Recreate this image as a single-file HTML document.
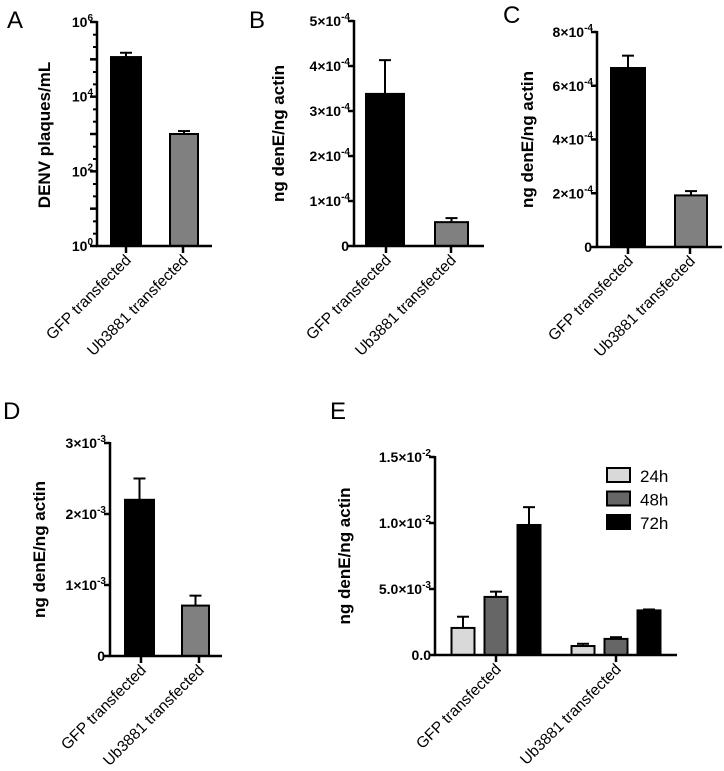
<!DOCTYPE html>
<html><head><meta charset="utf-8"><style>
html,body{margin:0;padding:0;background:#fff;}
svg{display:block;font-family:"Liberation Sans",Arial,sans-serif;}
</style></head><body>
<svg id="fig" width="724" height="771" viewBox="0 0 724 771" xmlns="http://www.w3.org/2000/svg"></svg>
<script>
// ---- data ----
const categories = ["GFP transfected","Ub3881 transfected"];
const aValues = [115000, 1000];
const aErrors = [150000, 1200];
const aTickExp = [0,2,4,6];
const bValues = [3.38e-4, 0.53e-4];
const bErrors = [4.13e-4, 0.62e-4];
const bTicks = [0,1,2,3,4,5];
const cValues = [6.66e-4, 1.92e-4];
const cErrors = [7.12e-4, 2.08e-4];
const cTicks = [0,2,4,6,8];
const dValues = [2.2e-3, 0.71e-3];
const dErrors = [2.5e-3, 0.85e-3];
const dTicks = [0,1,2,3];
const eSeries = ["24h","48h","72h"];
const e24 = [2.05e-3, 0.68e-3];
const e48 = [4.4e-3, 1.22e-3];
const e72 = [9.85e-3, 3.38e-3];
const e24err = [2.9e-3, 0.85e-3];
const e48err = [4.8e-3, 1.35e-3];
const e72err = [1.12e-2, 3.45e-3];
const eTicks = [0, 5.0e-3, 1.0e-2, 1.5e-2];
const eTickLabels = ["0.0","5.0×10","1.0×10","1.5×10"];
const eTickExps = ["","-3","-2","-2"];

const NS="http://www.w3.org/2000/svg";
const svg=document.getElementById('fig');
function el(tag,attrs,parent){const e=document.createElementNS(NS,tag);for(const k in attrs)e.setAttribute(k,attrs[k]);(parent||svg).appendChild(e);return e;}

function panel(name){const g=el('g',{});return g;}
function letter(g,txt,x,y){const t=el('text',{x:x,y:y,'font-size':'24'},g);t.textContent=txt;}
function tickLabel(g,x,y,base,exp){
  const t=el('text',{x:x,y:y,'font-size':'14','font-weight':'bold','text-anchor':'end'},g);
  
  const s1=el('tspan',{},t);s1.textContent=base;
  if(exp){const s2=el('tspan',{dy:-6,'font-size':'10'},t);s2.textContent=exp;}
}
function axes(g,ax,top,zero,right){
  const y=el('line',{x1:ax,y1:top-1,x2:ax,y2:zero+1,stroke:'#000','stroke-width':2.5},g);
  
  const x=el('line',{x1:ax-1,y1:zero,x2:right,y2:zero,stroke:'#000','stroke-width':2.5},g);
  
}
function yTitle(g,txt,x,y){const t=el('text',{x:0,y:0,'font-size':'17','font-weight':'bold','text-anchor':'middle',transform:`translate(${x},${y}) rotate(-90)`},g);t.textContent=txt;}
function catLabel(g,txt,tx,zero){
  const tk=el('line',{x1:tx,y1:zero,x2:tx,y2:zero+7,stroke:'#000','stroke-width':2.5},g);
  
  const t=el('text',{x:0,y:0,'font-size':'15.5','text-anchor':'end',transform:`translate(${tx+6},${zero+15}) rotate(-45)`},g);
  t.textContent=txt;
}
function bar(g,x0,x1,ytop,yerr,zero,fill,name){
  const e=el('line',{x1:(x0+x1)/2,y1:ytop,x2:(x0+x1)/2,y2:yerr,stroke:'#000','stroke-width':2},g);
  
  const c=el('line',{x1:(x0+x1)/2-6,y1:yerr,x2:(x0+x1)/2+6,y2:yerr,stroke:'#000','stroke-width':2},g);
  
  const r=el('rect',{x:x0,y:ytop,width:x1-x0,height:Math.max(0,zero-ytop),fill:fill,stroke:'#000','stroke-width':2},g);
  
}
function linScale(top,zero,max){return v=>zero-(v/max)*(zero-top);}
const fills=['#000','#808080'];

// ---- Panel A (log) ----
(function(){
  const g=panel('panel-a');letter(g,'A',7,28);
  const ax=97,top=22,zero=246,right=212;
  const ys=v=>zero-(Math.log10(v)/6)*(zero-top);
  for(let e=0;e<=6;e++){const yy=ys(Math.pow(10,e));const tk=el('line',{x1:ax-7,y1:yy,x2:ax,y2:yy,stroke:'#000','stroke-width':2.5},g);}
  for(let e=0;e<6;e++){for(const m of [0.33,0.66]){const mid=ys(Math.pow(10,e+m));const tk=el('line',{x1:ax-4,y1:mid,x2:ax,y2:mid,stroke:'#000','stroke-width':2},g);}}
  aTickExp.forEach(e=>tickLabel(g,ax-4,ys(Math.pow(10,e))+5,'10',String(e)));
  const xs=[[111,141],[170,198]],tx=[126,183];
  aValues.forEach((v,i)=>bar(g,xs[i][0],xs[i][1],ys(v),ys(aErrors[i]),zero,fills[i],'bar-'+i));
  axes(g,ax,top,zero,right);
  categories.forEach((c,i)=>catLabel(g,c,tx[i],zero));
  yTitle(g,'DENV plaques/mL',50,135);
})();

function simplePanel(name,L,lx,ly,ax,top,zero,right,max,ticks,scaleDiv,exp,vals,errs,xs,tx,titleX){
  const g=panel(name);letter(g,L,lx,ly);
  const ys=linScale(top,zero,max);
  ticks.forEach(t=>{const yy=ys(t*scaleDiv);const tk=el('line',{x1:ax-6,y1:yy,x2:ax,y2:yy,stroke:'#000','stroke-width':2.5},g);
    if(t===0)tickLabel(g,ax-5,yy+5,'0','');else tickLabel(g,ax-4,yy+5,t+'×10',exp);});
  vals.forEach((v,i)=>bar(g,xs[i][0],xs[i][1],ys(v),ys(errs[i]),zero,fills[i],'bar-'+i));
  axes(g,ax,top,zero,right);
  categories.forEach((c,i)=>catLabel(g,c,tx[i],zero));
  yTitle(g,'ng denE/ng actin',titleX,(top+zero)/2);
}
simplePanel('panel-b','B',249,28,354,21,246,484,5e-4,bTicks,1e-4,'-4',bValues,bErrors,[[366,404],[435,468]],[386,451],284);
simplePanel('panel-c','C',503,23,597,32,247,722,8e-4,cTicks,1e-4,'-4',cValues,cErrors,[[611,645],[675,707]],[628,690],533);
simplePanel('panel-d','D',3,419,110,443,656,222,3e-3,dTicks,1e-3,'-3',dValues,dErrors,[[125,154],[182,209]],[141,199],45);

// ---- Panel E ----
(function(){
  const g=panel('panel-e');letter(g,'E',330,419);
  const ax=435,top=457,zero=655,right=677;
  const ys=linScale(top,zero,1.5e-2);
  eTicks.forEach((t,i)=>{const yy=ys(t);const tk=el('line',{x1:ax-6,y1:yy,x2:ax,y2:yy,stroke:'#000','stroke-width':2.5},g);
    tickLabel(g,ax-4,yy+5,eTickLabels[i],eTickExps[i]);});
  const series=[e24,e48,e72],errs=[e24err,e48err,e72err];
  const sFill=['#d9d9d9','#666666','#000'];
  const centers=[496,616],bw=23,gap=33;
  centers.forEach((cx,ci)=>{series.forEach((s,si)=>{const mx=cx+(si-1)*gap;bar(g,mx-bw/2,mx+bw/2,ys(s[ci]),ys(errs[si][ci]),zero,sFill[si],'bar-'+eSeries[si]+'-'+ci);});});
  axes(g,ax,top,zero,right);
  categories.forEach((c,i)=>catLabel(g,c,centers[i],zero));
  yTitle(g,'ng denE/ng actin',350,556);
  eSeries.forEach((s,i)=>{const y0=468+i*23.5;
    const r=el('rect',{x:607,y:y0,width:23,height:14,fill:sFill[i],stroke:'#000','stroke-width':2},g);
    
    const t=el('text',{x:640,y:y0+14,'font-size':'17'},g);t.textContent=s;
    });
})();
</script>
</body></html>
